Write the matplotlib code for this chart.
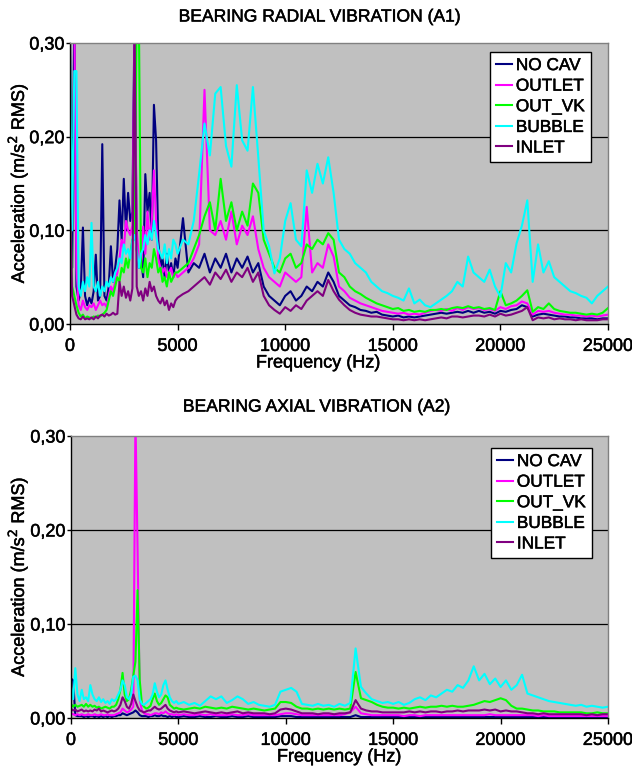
import numpy as np
import matplotlib
matplotlib.use("Agg")
import matplotlib.pyplot as plt
import matplotlib.patheffects as pe

plt.rcParams['font.family'] = ['Liberation Sans', 'DejaVu Sans']

# frequency bins (Hz): fine below 5 kHz, coarser above
freq = np.concatenate([np.arange(0, 5000, 100), np.arange(5000, 25001, 250)])

series_names = ["NO CAV", "OUTLET", "OUT_VK", "BUBBLE", "INLET"]
series_colors = ["#000080", "#FF00FF", "#00FF00", "#00FFFF", "#800080"]

# ---- radial vibration (A1), values in 1e-3 m/s2 RMS
radial_nocav = [
    310, 60, 330, 40, 25, 35, 103, 30, 20, 28,
    22, 35, 74, 25, 30, 192, 30, 25, 40, 83,
    45, 60, 80, 132, 90, 155, 100, 140, 110, 120,
    330, 80, 60, 70, 50, 160, 120, 140, 90, 234,
    196, 90, 60, 70, 50, 75, 55, 65, 50, 70,
    60, 113, 55, 65, 60, 75, 55, 70,
    60, 75, 55, 70, 60, 72, 55, 65,
    40, 30, 25, 20, 30, 35, 25, 30,
    40, 35, 45, 40, 55, 45, 30, 25,
    20, 18, 15, 14, 12, 13, 10, 9,
    8, 9, 7, 8, 7, 8, 9, 10,
    11, 12, 11, 12, 13, 12, 14, 12,
    14, 12, 13, 11, 14, 13, 15, 16,
    20, 18, 8, 10, 11, 10, 9, 8,
    8, 7, 7, 6, 6, 6, 5, 6,
    6]
radial_outlet = [
    320, 330, 330, 60, 20, 15, 25, 18, 15, 20,
    18, 22, 15, 20, 25, 20, 22, 18, 30, 40,
    35, 45, 55, 70, 90, 80, 110, 100, 95, 105,
    310, 100, 70, 60, 104, 75, 120, 90, 110, 164,
    110, 70, 60, 55, 60, 50, 55, 60, 50, 55,
    50, 55, 60, 70, 85, 250, 100, 95,
    110, 90, 120, 85, 105, 95, 115, 80,
    60, 50, 45, 40, 55, 50, 45, 50,
    125, 55, 65, 60, 85, 72, 40, 35,
    28, 25, 22, 20, 18, 16, 14, 13,
    12, 11, 12, 10, 11, 10, 12, 14,
    15, 14, 16, 14, 17, 15, 18, 16,
    17, 15, 16, 14, 18, 16, 19, 20,
    24, 22, 10, 14, 13, 14, 12, 11,
    10, 10, 9, 9, 8, 9, 8, 9,
    10]
radial_outvk = [
    150, 40, 30, 20, 12, 8, 10, 6, 8, 7,
    6, 8, 7, 9, 8, 10, 12, 15, 25, 35,
    30, 40, 50, 45, 60, 55, 70, 60, 75, 90,
    90, 330, 330, 60, 55, 70, 50, 65, 60, 80,
    70, 55, 60, 45, 50, 40, 55, 45, 50, 55,
    55, 60, 65, 80, 95, 115, 130, 100,
    155, 110, 130, 100, 120, 105, 150, 140,
    90, 75, 60, 55, 70, 75, 60, 65,
    85, 80, 90, 85, 97, 90, 55, 50,
    40, 35, 32, 28, 25, 22, 20, 18,
    16, 17, 14, 15, 13, 14, 13, 15,
    15, 16, 15, 17, 18, 17, 19, 17,
    18, 16, 17, 15, 35, 20, 22, 25,
    30, 36, 13, 18, 16, 22, 16, 14,
    13, 12, 12, 11, 10, 11, 10, 12,
    17]
radial_bubble = [
    280, 100, 270, 270, 40, 30, 45, 35, 50, 40,
    108, 40, 35, 45, 30, 40, 35, 45, 40, 50,
    45, 55, 60, 70, 65, 85, 75, 80, 70, 90,
    95, 80, 60, 75, 80, 95, 85, 100, 90, 110,
    95, 80, 75, 70, 85, 65, 80, 70, 90, 85,
    75, 90, 85, 110, 160, 214, 180, 246,
    253, 190, 168, 255, 196, 185, 253, 178,
    100, 83, 54, 70, 110, 129, 90, 83,
    164, 140, 171, 150, 178, 140, 90, 80,
    75, 65, 60, 55, 45, 40, 35, 33,
    30, 28, 25, 38, 22, 26, 20, 18,
    22, 26, 30, 35, 45, 40, 72, 55,
    50, 45, 58, 40, 29, 65, 55, 86,
    105, 132, 45, 85, 55, 67, 50, 45,
    40, 35, 33, 30, 28, 22, 30, 35,
    40]
radial_inlet = [
    130, 30, 20, 10, 6, 5, 8, 5, 6, 5,
    7, 5, 8, 6, 9, 10, 8, 11, 9, 10,
    12, 10, 11, 45, 30, 40, 28, 35, 25, 38,
    320, 40, 30, 35, 25, 38, 30, 45, 35, 40,
    30, 25, 22, 28, 20, 25, 15, 22, 18, 25,
    28, 32, 35, 40, 45, 50, 42, 55,
    48, 58, 45, 55, 50, 60, 45, 55,
    30, 20, 15, 11, 18, 14, 20, 16,
    25, 30, 35, 30, 47, 35, 26, 20,
    15, 12, 10, 9, 8, 8, 7, 6,
    5, 5, 4, 5, 4, 5, 4, 5,
    6, 7, 6, 8, 8, 7, 8, 9,
    9, 8, 10, 8, 11, 9, 10, 12,
    14, 18, 4, 7, 6, 7, 5, 6,
    5, 5, 4, 5, 4, 4, 4, 5,
    5]

# ---- axial vibration (A2), values in 1e-3 m/s2 RMS
axial_nocav = [
    42, 40, 3, 2, 2, 2, 1, 2, 1, 2,
    2, 1, 2, 1, 2, 1, 2, 1, 2, 1,
    2, 2, 3, 3, 5, 4, 3, 4, 5, 6,
    8, 6, 3, 2, 2, 2, 1, 2, 2, 3,
    2, 2, 3, 2, 2, 1, 2, 1, 2, 1,
    1, 2, 1, 1, 2, 1, 1, 2,
    1, 1, 2, 1, 1, 2, 1, 1,
    1, 1, 1, 2, 2, 2, 1, 1,
    1, 1, 1, 1, 1, 1, 1, 1,
    1, 3, 1, 1, 1, 1, 1, 1,
    1, 1, 1, 1, 1, 1, 1, 1,
    1, 1, 1, 1, 1, 1, 1, 1,
    1, 1, 1, 1, 1, 1, 1, 1,
    1, 1, 1, 1, 1, 1, 1, 1,
    1, 1, 1, 1, 1, 1, 1, 1,
    1]
axial_outlet = [
    5, 4, 3, 4, 3, 4, 3, 3, 4, 3,
    3, 4, 3, 3, 4, 3, 3, 4, 3, 3,
    3, 4, 5, 6, 10, 8, 6, 7, 9, 12,
    320, 178, 20, 8, 5, 4, 4, 3, 4, 5,
    5, 4, 6, 5, 7, 5, 4, 4, 3, 4,
    3, 4, 3, 3, 4, 3, 4, 3,
    3, 3, 4, 3, 3, 4, 3, 3,
    3, 3, 3, 4, 5, 5, 4, 3,
    3, 3, 3, 3, 3, 3, 3, 4,
    6, 12, 5, 4, 3, 3, 3, 3,
    3, 3, 2, 3, 3, 2, 3, 3,
    3, 3, 3, 3, 3, 3, 3, 3,
    3, 3, 4, 3, 3, 3, 3, 3,
    3, 3, 3, 2, 3, 2, 2, 2,
    2, 2, 2, 2, 2, 2, 2, 2,
    2]
axial_outvk = [
    15, 12, 14, 12, 13, 14, 12, 15, 12, 14,
    12, 13, 11, 12, 10, 11, 12, 11, 10, 12,
    12, 14, 20, 30, 48, 25, 18, 20, 30, 45,
    60, 136, 40, 15, 12, 10, 11, 13, 20, 26,
    18, 14, 16, 20, 24, 22, 14, 12, 10, 11,
    10, 9, 10, 11, 10, 12, 11, 10,
    11, 10, 12, 11, 10, 9, 10, 9,
    8, 9, 10, 17, 17, 16, 12, 10,
    10, 9, 10, 9, 10, 9, 10, 9,
    10, 49, 21, 19, 17, 14, 12, 11,
    11, 10, 11, 10, 11, 12, 11, 12,
    12, 13, 12, 13, 12, 12, 13, 14,
    16, 18, 17, 19, 21, 19, 13, 10,
    10, 9, 8, 8, 7, 7, 7, 6,
    6, 6, 6, 6, 5, 5, 6, 5,
    5]
axial_bubble = [
    33, 20, 53, 25, 18, 30, 20, 22, 18, 35,
    25, 20, 18, 22, 17, 20, 16, 18, 15, 20,
    18, 20, 25, 30, 40, 35, 22, 20, 25, 44,
    45, 40, 20, 15, 14, 16, 18, 20, 25, 37,
    28, 22, 25, 35, 40, 30, 22, 18, 16, 18,
    15, 17, 14, 16, 13, 18, 23, 20,
    23, 16, 19, 23, 20, 15, 17, 14,
    13, 12, 14, 28, 30, 32, 28, 15,
    14, 13, 15, 13, 14, 12, 15, 13,
    16, 74, 33, 26, 20, 18, 16, 17,
    15, 17, 14, 16, 20, 22, 19, 24,
    22, 26, 30, 28, 35, 32, 40, 55,
    40, 47, 36, 42, 33, 40, 30, 35,
    46, 26, 24, 22, 20, 18, 17, 16,
    15, 14, 13, 14, 12, 13, 12, 11,
    12]
axial_inlet = [
    10, 8, 9, 7, 8, 9, 7, 8, 7, 8,
    7, 9, 8, 10, 7, 8, 7, 6, 7, 8,
    7, 8, 10, 14, 22, 18, 12, 10, 15, 25,
    18, 12, 8, 7, 6, 7, 8, 8, 10, 12,
    10, 9, 10, 12, 14, 10, 8, 7, 6, 7,
    6, 7, 6, 5, 6, 7, 6, 5,
    6, 5, 6, 7, 5, 6, 5, 5,
    5, 4, 5, 9, 10, 9, 7, 5,
    5, 5, 4, 5, 5, 4, 5, 5,
    6, 19, 10, 8, 7, 7, 6, 6,
    6, 6, 6, 7, 6, 7, 6, 7,
    7, 6, 7, 7, 8, 7, 8, 8,
    8, 9, 8, 9, 7, 8, 7, 7,
    6, 5, 5, 4, 5, 4, 4, 4,
    4, 4, 4, 4, 3, 4, 3, 4,
    4]

yticks = [0.0, 0.1, 0.2, 0.3]
ytick_labels = ["0,00", "0,10", "0,20", "0,30"]
xticks = [0, 5000, 10000, 15000, 20000, 25000]

W, H = 632, 767
# title text, axes box (px), series, title centre (px), xlabel centre x (px), legend anchor
panels = [
    ("BEARING RADIAL VIBRATION (A1)", [70, 43, 608, 324],
     [radial_nocav, radial_outlet, radial_outvk, radial_bubble, radial_inlet],
     (319, 17), 318, (591, 52)),
    ("BEARING AXIAL VIBRATION (A2)", [71, 436, 608, 718],
     [axial_nocav, axial_outlet, axial_outvk, axial_bubble, axial_inlet],
     (316, 407), 339, (592, 448)),
]

heavy = [pe.withStroke(linewidth=0.35, foreground="black")]
FS = 13

fig = plt.figure(figsize=(W / 100, H / 100), dpi=100)

for title, (x0, y0, x1, y1), data, tpos, xl_x, lpos in panels:
    ax = fig.add_axes([x0 / W, 1 - y1 / H, (x1 - x0) / W, (y1 - y0) / H])
    ax.set_facecolor("#C0C0C0")
    for vals, name, col in zip(data, series_names, series_colors):
        ax.plot(freq, np.array(vals) / 1000.0, color=col, lw=1.5, label=name)
    ax.set_xlim(0, 25000)
    ax.set_ylim(0, 0.3)
    ax.set_yticks(yticks)
    ax.set_yticklabels(ytick_labels)
    ax.set_xticks(xticks)
    ax.tick_params(axis="x", labelsize=FS, direction="out", length=4,
                   width=1, color="black", pad=6)
    ax.tick_params(axis="y", labelsize=FS, direction="out", length=3,
                   width=1, color="black", pad=1)
    for lab in ax.get_xticklabels() + ax.get_yticklabels():
        lab.set_path_effects(heavy)
    for y in [0.1, 0.2]:
        ax.axhline(y, color="black", lw=0.9, zorder=0.5)
    ax.spines["left"].set_color("black")
    ax.spines["bottom"].set_color("black")
    ax.spines["top"].set_color("#808080")
    ax.spines["right"].set_color("#808080")
    for s in ax.spines.values():
        s.set_linewidth(1.0)

    leg = ax.legend(loc="upper right",
                    bbox_to_anchor=(lpos[0] / W, 1 - lpos[1] / H),
                    bbox_transform=fig.transFigure, fontsize=12.4,
                    frameon=True, fancybox=False, framealpha=1,
                    edgecolor="black", handlelength=0.9, handletextpad=0.25,
                    borderpad=0.35, labelspacing=0.32, borderaxespad=0)
    leg.get_frame().set_linewidth(1.0)
    for t in leg.get_texts():
        t.set_path_effects(heavy)

    fig.text(tpos[0] / W, 1 - tpos[1] / H, title, ha="center", va="center",
             fontsize=12.6, path_effects=heavy)
    fig.text(xl_x / W, 1 - (y1 + 39) / H, "Frequency (Hz)", ha="center",
             va="center", fontsize=FS, path_effects=heavy)
    fig.text(18 / W, 1 - (y0 + y1) / 2 / H, "Acceleration (m/s$^{2}$ RMS)",
             ha="center", va="center", rotation=90, fontsize=FS,
             path_effects=heavy)

fig.savefig("out.png", dpi=100)
